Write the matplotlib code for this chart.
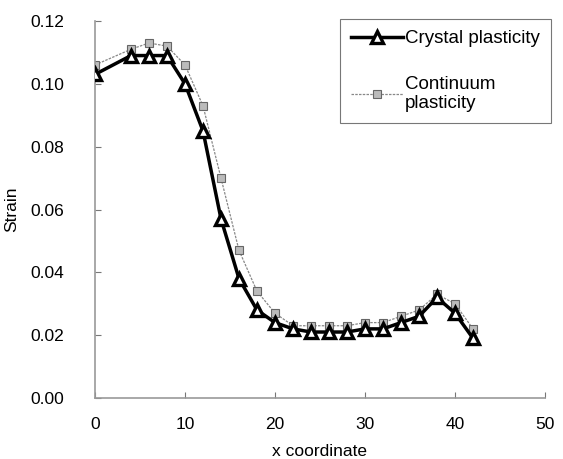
import matplotlib.pyplot as plt

# x positions along the specimen
x_coord = [0, 4, 6, 8, 10, 12, 14, 16, 18, 20, 22, 24, 26, 28, 30, 32, 34, 36, 38, 40, 42]

# strain values
crystal = [0.103, 0.109, 0.109, 0.109, 0.100, 0.085, 0.057, 0.038, 0.028, 0.024, 0.022,
           0.021, 0.021, 0.021, 0.022, 0.022, 0.024, 0.026, 0.032, 0.027, 0.019]
continuum = [0.106, 0.111, 0.113, 0.112, 0.106, 0.093, 0.070, 0.047, 0.034, 0.027, 0.023,
             0.023, 0.023, 0.023, 0.024, 0.024, 0.026, 0.028, 0.033, 0.030, 0.022]

x_ticks = [0, 10, 20, 30, 40, 50]
y_ticks = [0.00, 0.02, 0.04, 0.06, 0.08, 0.10, 0.12]

plt.rcParams['font.family'] = ['Liberation Sans', 'DejaVu Sans']

fig = plt.figure(figsize=(5.63, 4.59), dpi=100)
ax = fig.add_axes([95 / 563, 1 - 398 / 459, 450 / 563, 377 / 459])

ax.plot(x_coord, continuum, color='#888888', lw=0.9, ls=(0, (2, 1)),
        marker='s', ms=6, mfc='#bbbbbb', mec='#666666', mew=0.8,
        label='Continuum\nplasticity', zorder=2)
ax.plot(x_coord, crystal, color='black', lw=2.5,
        marker='^', ms=9, mfc='white', mec='black', mew=2.4,
        label='Crystal plasticity', zorder=3)

ax.set_xlim(0, 50)
ax.set_ylim(0, 0.12)
ax.set_xticks(x_ticks)
ax.set_yticks(y_ticks)
ax.set_yticklabels([f'{v:.2f}' for v in y_ticks])
ax.tick_params(direction='in', length=4, color='#777777', labelsize=12.5)
ax.tick_params(axis='x', pad=14)
ax.tick_params(axis='y', pad=22)

for side in ['top', 'right']:
    ax.spines[side].set_visible(False)
for side in ['left', 'bottom']:
    ax.spines[side].set_color('#999999')
    ax.spines[side].set_linewidth(1.2)

ax.set_xlabel('x coordinate', fontsize=12.5, labelpad=8)
ax.set_ylabel('Strain', fontsize=12.5, labelpad=8)

handles, labels = ax.get_legend_handles_labels()
leg = ax.legend(handles[::-1], labels[::-1], loc='upper right', bbox_to_anchor=(1.035, 1.03),
                fontsize=13.5, frameon=True, fancybox=False, edgecolor='#555555',
                handlelength=2.8, labelspacing=1.5, borderpad=0.6, handletextpad=0.1)
leg.get_frame().set_linewidth(0.8)

fig.savefig('out.png', dpi=100)
